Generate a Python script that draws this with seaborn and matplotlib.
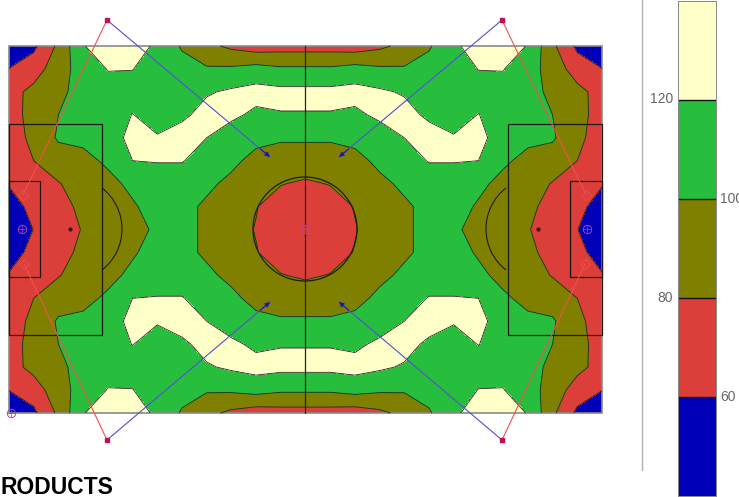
import numpy as np
import matplotlib
matplotlib.use("Agg")
import matplotlib.pyplot as plt
from matplotlib.colors import ListedColormap, BoundaryNorm
from matplotlib.patches import Circle, Arc, Rectangle
import seaborn as sns

# Sound level: top-left quarter of the pitch, mirrored for the rest.
quarter_levels = [
    [40, 56, 84, 119, 130, 130, 116, 98, 85, 76, 70, 72, 72],
    [60.5, 70, 92, 108, 120.8, 120.5, 110, 107, 102, 103, 107, 103, 103],
    [72, 86, 95, 108, 113, 112, 112, 114, 118, 123, 127, 125, 125],
    [74, 85, 100, 108, 110, 120.5, 112, 116, 127, 124, 116, 119, 119],
    [72, 84, 102.5, 104, 110, 126, 121.5, 129, 120, 110, 107, 102, 102],
    [70, 80, 90, 95, 103, 120, 121, 121, 112, 106, 92, 92, 92],
    [62, 70, 79, 88, 95, 104, 110, 110, 105, 94, 86, 81, 77],
    [48, 68, 74, 84, 92, 98, 107, 107, 96, 90, 81, 70, 68],
    [40, 60.5, 72, 81, 90, 94, 103, 107, 96, 88, 79, 68, 65],
]
contour_levels = [0, 60, 80, 100, 120, 200]
band_colors = ["#0000B8", "#DC3F3A", "#808000", "#26BE3C", "#FFFFC8"]
bar_values = [[130], [110], [90], [70], [50]]
bar_labels = ["120", "100", "80", "60"]
title_text = "RODUCTS"

sns.set_style("white")
fig = plt.figure(figsize=(7.39, 4.97), dpi=100)
ax = fig.add_axes([0, 0, 1, 1])
ax.set_xlim(0, 739)
ax.set_ylim(497, 0)
ax.axis("off")

q = np.array(quarter_levels, dtype=float)
top = np.hstack([q, q[:, -2::-1]])
grid = np.vstack([top, top[-2::-1, :]])
X = np.linspace(9, 602, grid.shape[1])
Y = np.linspace(46, 413, grid.shape[0])
ax.contourf(X, Y, grid, levels=contour_levels, colors=band_colors)
ax.contour(X, Y, grid, levels=contour_levels[1:-1], colors="#222222", linewidths=0.6)

# pitch markings
mk = dict(fill=False, ec="#1a1a1a", lw=0.9)
ax.add_patch(Rectangle((9, 46), 593, 367, fill=False, ec="#8a8a8a", lw=1.2))
ax.plot([305, 305], [46, 413], color="#222222", lw=0.9)
ax.add_patch(Circle((305, 229), 52, **mk))
for x0, x1 in [(9, 102), (508, 602)]:
    ax.add_patch(Rectangle((x0, 124), x1 - x0, 211, **mk))
for x0, x1 in [(9, 40), (570, 602)]:
    ax.add_patch(Rectangle((x0, 181), x1 - x0, 96, **mk))
ax.add_patch(Arc((70, 229), 104, 104, theta1=-52, theta2=52, ec="#1a1a1a", lw=0.8))
ax.add_patch(Arc((538, 229), 104, 104, theta1=128, theta2=232, ec="#1a1a1a", lw=0.8))
ax.plot([70, 538], [229, 229], ls="none", marker="o", ms=2, color="#401010")

# loudspeakers with their aiming lines
for sx, sy, rx, ry, bx, by in [
    (107, 20, 23, 195, 270, 157), (502, 20, 586, 195, 339, 157),
    (107, 440, 24, 264, 270, 302), (502, 440, 585, 264, 339, 302),
]:
    ax.plot([sx, rx], [sy, ry], color="#F05050", lw=0.8)
    ax.plot([sx, bx], [sy, by], color="#5050D8", lw=0.8)
    ax.annotate("", xy=(bx, by), xytext=(sx + (bx - sx) * 0.94, sy + (by - sy) * 0.94),
                arrowprops=dict(arrowstyle="-|>", color="#1818B0", lw=0.8, mutation_scale=7,
                                shrinkA=0, shrinkB=0))
    ax.plot(rx, ry, marker="D", ms=5, mfc="none", mec="#F05050", mew=0.6)
    ax.plot(sx, sy, marker="s", ms=3.5, color="#C01050")
for cx, cy in [(22, 229), (305, 229), (587, 229), (11, 413)]:
    ax.plot(cx, cy, marker="o", ms=6, mfc="none", mec="#B040B0", mew=0.7)
    ax.plot(cx, cy, marker="+", ms=6, mec="#B040B0", mew=0.5)

ax.plot([642, 642], [0, 470], color="#b0b0b0", lw=1.0)
ax.text(1, 494.5, title_text, fontsize=16.5, fontweight="bold",
        family="Liberation Sans", color="black", va="baseline", ha="left")

# colour scale
cax = fig.add_axes([678 / 739, 1 / 497, 38 / 739, 495 / 497])
sns.heatmap(bar_values, ax=cax, cbar=False, xticklabels=False, yticklabels=False,
            cmap=ListedColormap(band_colors),
            norm=BoundaryNorm(contour_levels, 5), linewidths=0)
for i in range(1, 5):
    cax.axhline(i, color="#111111", lw=1)
for s in ("left", "right", "top", "bottom"):
    cax.spines[s].set_visible(True)
    cax.spines[s].set_color("#888888")
    cax.spines[s].set_linewidth(0.7)

lab = dict(fontsize=10, color="#666666", va="center", family="Liberation Sans")
ax.text(673, 99, bar_labels[0], ha="right", **lab)
ax.text(720, 199, bar_labels[1], ha="left", clip_on=True, **lab)
ax.text(673, 298, bar_labels[2], ha="right", **lab)
ax.text(720, 397, bar_labels[3], ha="left", **lab)

fig.savefig("out.png", dpi=100)
